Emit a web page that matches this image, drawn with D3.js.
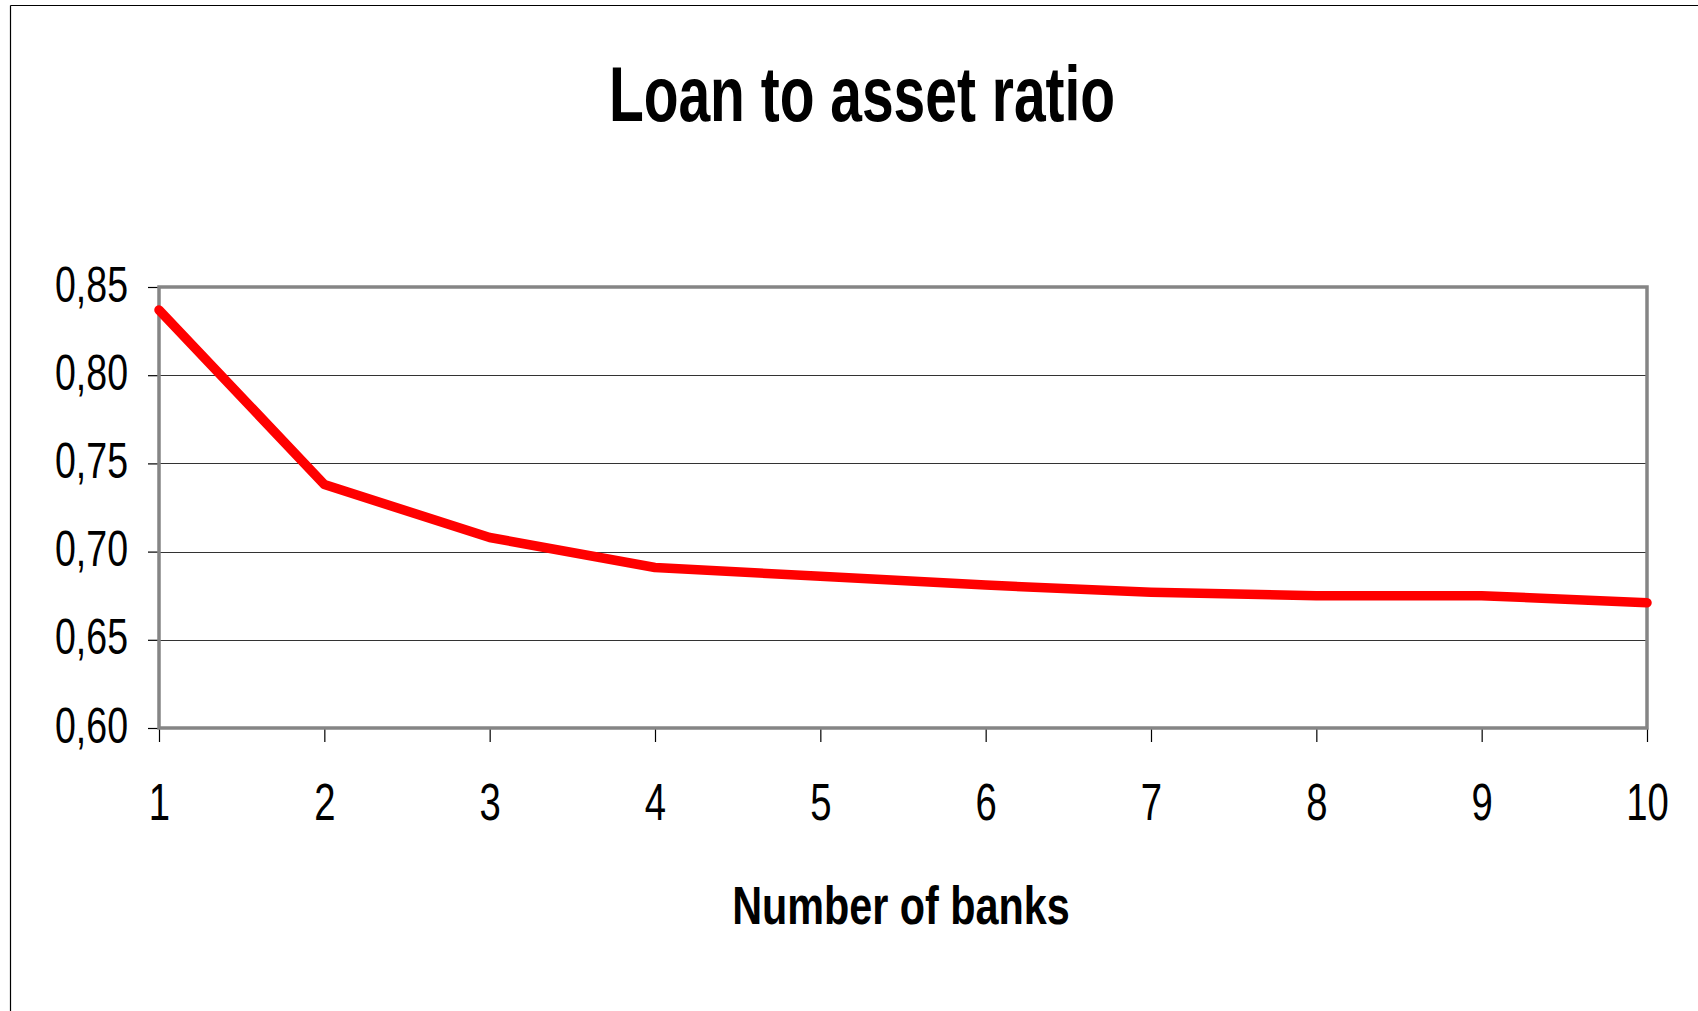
<!DOCTYPE html>
<html>
<head>
<meta charset="utf-8">
<script src="https://cdn.jsdelivr.net/npm/d3@7"></script>
<style>
  html, body { margin: 0; padding: 0; background: #fff; }
  svg { display: block; font-family: "Liberation Sans", Arial, sans-serif; }
</style>
</head>
<body>
<svg id="chart" width="1698" height="1011"></svg>
<script>
// Number of banks on the x axis
const banks = [1, 2, 3, 4, 5, 6, 7, 8, 9, 10];
// Loan to asset ratio for each number of banks
const loanToAsset = [0.837, 0.738, 0.708, 0.691, 0.686, 0.681, 0.677, 0.675, 0.675, 0.671];
// Value axis ticks
const yTicks = [0.60, 0.65, 0.70, 0.75, 0.80, 0.85];

const chartTitle = "Loan to asset ratio";
const xTitle = "Number of banks";

const svg = d3.select("#chart");
const W = 1698, H = 1011;
const plot = { left: 159, right: 1647, top: 287, bottom: 728 };

// Narrow glyphs: squeeze text horizontally around its anchor
const squeeze = 0.75;
function narrow(sel, k) {
  sel.each(function () {
    const len = this.getComputedTextLength();
    d3.select(this).attr("textLength", len * k).attr("lengthAdjust", "spacingAndGlyphs");
  });
}

// Comma decimal separator
const locale = d3.formatLocale({ decimal: ",", thousands: ".", grouping: [3], currency: ["", " €"] });
const fmt = locale.format(".2f");

const x = d3.scaleLinear().domain([d3.min(banks), d3.max(banks)]).range([plot.left, plot.right]);
const y = d3.scaleLinear().domain([d3.min(yTicks), d3.max(yTicks)]).range([plot.bottom, plot.top]);

// Outer frame (top and left edges visible)
svg.append("line").attr("x1", 10.5).attr("x2", W).attr("y1", 5.5).attr("y2", 5.5)
  .attr("stroke", "#000").attr("stroke-width", 1.2);
svg.append("line").attr("x1", 10.5).attr("x2", 10.5).attr("y1", 5.5).attr("y2", H)
  .attr("stroke", "#000").attr("stroke-width", 1.2);

// Horizontal gridlines
svg.append("g").selectAll("line")
  .data(yTicks.filter(v => v > d3.min(yTicks) && v < d3.max(yTicks)))
  .join("line")
  .attr("x1", plot.left).attr("x2", plot.right)
  .attr("y1", d => Math.round(y(d)) + 0.5).attr("y2", d => Math.round(y(d)) + 0.5)
  .attr("stroke", "#333").attr("stroke-width", 1);

// Y axis
const yAxis = svg.append("g")
  .attr("transform", `translate(${plot.left},0)`)
  .call(d3.axisLeft(y).tickValues(yTicks).tickFormat(fmt).tickSize(11).tickPadding(20).tickSizeOuter(0));
yAxis.select(".domain").remove();
yAxis.selectAll(".tick line").attr("stroke", "#000").attr("stroke-width", 1.2);
yAxis.selectAll(".tick text")
  .attr("font-size", 50).attr("fill", "#000").attr("dy", "0.28em")
  .call(narrow, squeeze);

// X axis
const xAxis = svg.append("g")
  .attr("transform", `translate(0,${plot.bottom})`)
  .call(d3.axisBottom(x).tickValues(banks).tickFormat(d3.format("d")).tickSize(14).tickPadding(42).tickSizeOuter(0));
xAxis.select(".domain").remove();
xAxis.selectAll(".tick line").attr("stroke", "#000").attr("stroke-width", 1.2);
xAxis.selectAll(".tick text")
  .attr("font-size", 51).attr("fill", "#000")
  .call(narrow, squeeze);

// Plot area border
svg.append("rect")
  .attr("x", plot.left).attr("y", plot.top)
  .attr("width", plot.right - plot.left).attr("height", plot.bottom - plot.top)
  .attr("fill", "none").attr("stroke", "#858585").attr("stroke-width", 3.5);

// Series line
const line = d3.line().x((d, i) => x(banks[i])).y(d => y(d));
svg.append("path")
  .datum(loanToAsset)
  .attr("d", line)
  .attr("fill", "none")
  .attr("stroke", "#ff0000")
  .attr("stroke-width", 9.5)
  .attr("stroke-linejoin", "round")
  .attr("stroke-linecap", "round");

// Chart title
svg.append("text")
  .attr("x", 862).attr("y", 121)
  .attr("text-anchor", "middle")
  .attr("font-size", 78).attr("font-weight", "bold").attr("fill", "#000")
  .text(chartTitle)
  .call(narrow, 0.73);

// X axis title
svg.append("text")
  .attr("x", 901).attr("y", 924)
  .attr("text-anchor", "middle")
  .attr("font-size", 53).attr("font-weight", "bold").attr("fill", "#000")
  .text(xTitle)
  .call(narrow, 0.78);
</script>
</body>
</html>
